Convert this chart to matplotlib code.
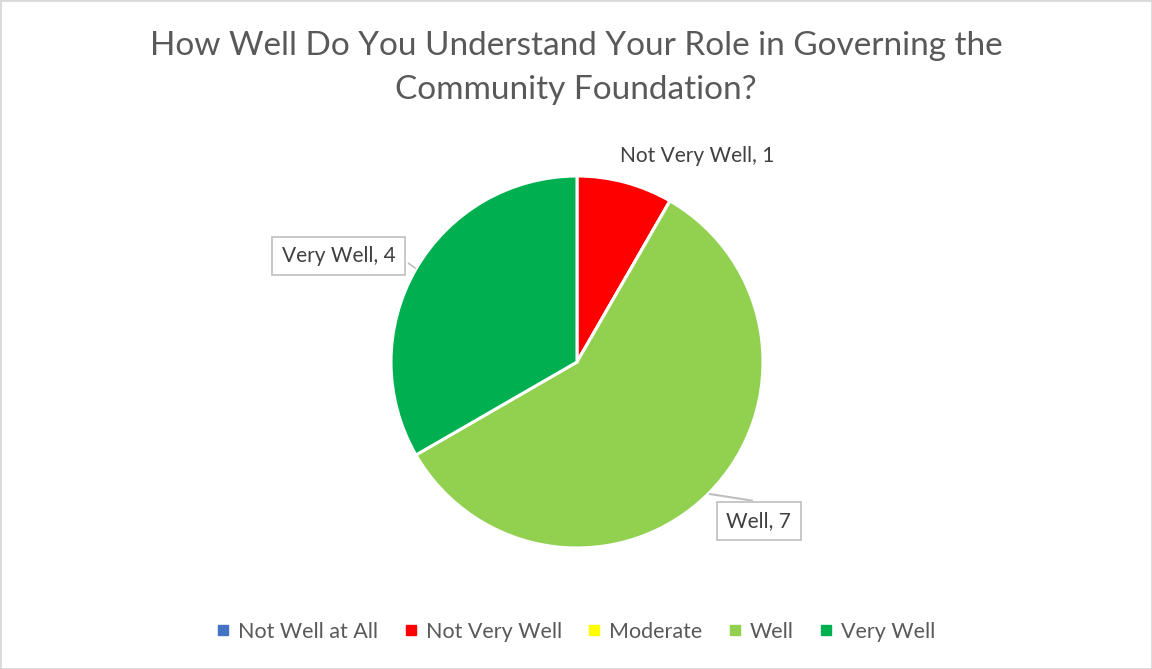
import matplotlib
matplotlib.use('Agg')
import matplotlib.pyplot as plt
from matplotlib.lines import Line2D
from matplotlib.patches import Rectangle

plt.rcParams['font.family'] = ['Lato', 'DejaVu Sans']

# survey answers
categories = ['Not Well at All', 'Not Very Well', 'Moderate', 'Well', 'Very Well']
counts = [0, 1, 0, 7, 4]
colors = ['#4472C4', '#FF0000', '#FFFF00', '#92D050', '#00B050']
title = 'How Well Do You Understand Your Role in Governing the\nCommunity Foundation?'

W, H = 1152, 669
fig = plt.figure(figsize=(W / 100, H / 100), dpi=100)

# pie area: centre and radius in pixels
cx, cy, r = 577, 362, 186
ax = fig.add_axes([(cx - r) / W, (H - cy - r) / H, 2 * r / W, 2 * r / H])
ax.pie(counts, colors=colors, startangle=90, counterclock=False,
       wedgeprops=dict(edgecolor='white', linewidth=2.2))
ax.set_xlim(-1, 1)
ax.set_ylim(-1, 1)
ax.set_aspect('equal')
ax.axis('off')

# data labels (axes data units, radius = 1)
label_pos = {'Not Very Well': (0.645, 1.105), 'Well': (0.978, -0.855), 'Very Well': (-1.282, 0.57)}
boxed = {'Well', 'Very Well'}
for cat, n in zip(categories, counts):
    if n == 0:
        continue
    x, y = label_pos[cat]
    bbox = None
    if cat in boxed:
        bbox = dict(boxstyle='square,pad=0.45', fc='white', ec='#BFBFBF', lw=1.2)
    ax.text(x, y, f'{cat}, {n}', ha='center', va='center', fontsize=15,
            color='#404040', bbox=bbox, clip_on=False, zorder=5)

# leader lines
ax.plot([0.715, 0.94], [-0.71, -0.745], color='#BFBFBF', lw=1.5,
        clip_on=False, zorder=4)
ax.plot([-0.905, -0.87], [0.53, 0.505], color='#BFBFBF', lw=1.2,
        clip_on=False, zorder=6)

fig.text(0.5, 1 - 68 / H, title, ha='center', va='center', fontsize=24,
         color='#595959', linespacing=1.55)

handles = [Line2D([], [], marker='s', ls='none', markersize=7,
                  markerfacecolor=c, markeredgecolor=c) for c in colors]
fig.legend(handles, categories, loc='center', bbox_to_anchor=(0.5, 1 - 632 / H),
           ncol=5, frameon=False, fontsize=15.5, labelcolor='#595959',
           handlelength=0.6, handletextpad=0.4, columnspacing=1.2)

# light chart-area border
fig.patches.append(Rectangle((0, 0), 1, 1, transform=fig.transFigure,
                             fill=False, ec='#D9D9D9', lw=2))

fig.savefig('out.png', dpi=100, facecolor='white')
